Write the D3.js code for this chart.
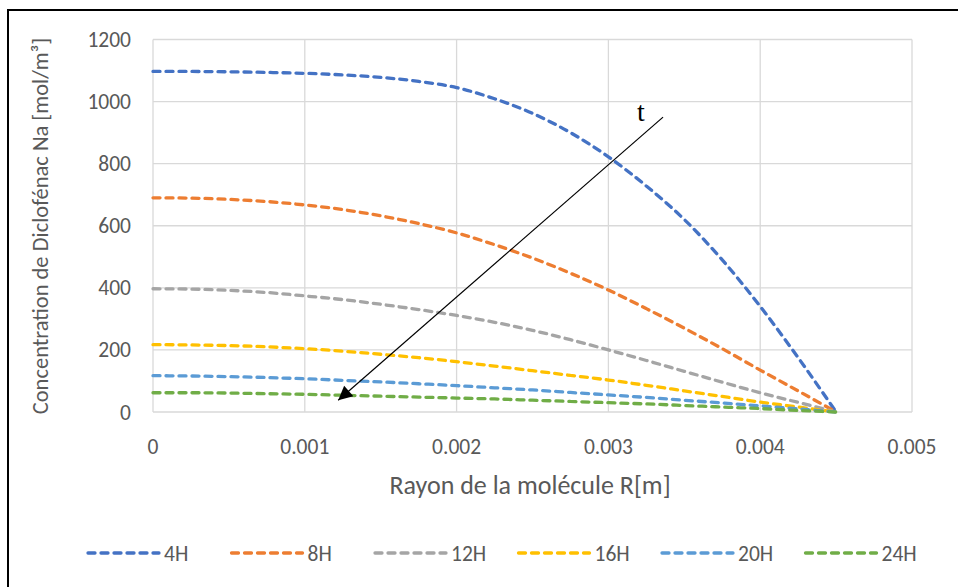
<!DOCTYPE html>
<html>
<head>
<meta charset="utf-8">
<script src="https://cdn.jsdelivr.net/npm/d3@7"></script>
<style>
  body { margin: 0; background: #fff; }
  text { font-family: Carlito, Calibri, Lato, sans-serif; fill: #595959; }
</style>
</head>
<body>
<div id="chart"></div>
<script>
var width = 958;
var height = 587;

// rayon (m)
var radius = [0, 0.00025, 0.0005, 0.00075, 0.001, 0.00125, 0.0015, 0.00175, 0.002, 0.00225,
  0.0025, 0.00275, 0.003, 0.00325, 0.0035, 0.00375, 0.004, 0.00425, 0.0045];

// concentration (mol/m3)
var c4h  = [1097, 1097, 1096, 1094, 1091, 1086, 1078, 1065, 1045, 1009, 962, 900, 822, 728, 620, 490, 340, 175, 0];
var c8h  = [690, 689, 685, 678, 667, 652, 632, 607, 577, 539, 496, 447, 393, 333, 270, 204, 135, 68, 0];
var c12h = [397, 396, 392, 385, 374, 362, 347, 330, 311, 289, 263, 233, 200, 166, 131, 96, 62, 31, 0];
var c16h = [217, 216, 214, 210, 204, 196, 186, 175, 162, 148, 133, 118, 103, 86, 68, 50, 32, 16, 0];
var c20h = [117, 116, 114, 111, 107, 102, 97, 91, 85, 78, 71, 63, 55, 47, 38, 29, 20, 10, 0];
var c24h = [62, 62, 61, 59, 57, 54, 51, 48, 45, 42, 38, 34, 30, 26, 21, 16, 11, 5, 0];

var names = ["4H", "8H", "12H", "16H", "20H", "24H"];
var colors = ["#4472C4", "#ED7D31", "#A5A5A5", "#FFC000", "#5B9BD5", "#70AD47"];
var xTicks = [0, 0.001, 0.002, 0.003, 0.004, 0.005];
var yTicks = [0, 200, 400, 600, 800, 1000, 1200];

var series = [c4h, c8h, c12h, c16h, c20h, c24h];

var svg = d3.select("#chart").append("svg")
  .attr("width", width)
  .attr("height", height);

// outer frame (cut at right and bottom like the picture)
svg.append("path")
  .attr("d", "M8,600 L8,10 L970,10")
  .attr("fill", "none")
  .attr("stroke", "#000")
  .attr("stroke-width", 2);

var xScale = d3.scaleLinear().domain([0, 0.005]).range([153, 912]);
var yScale = d3.scaleLinear().domain([0, 1200]).range([412, 39.5]);

// grid
svg.append("g").selectAll("line.h")
  .data(yTicks).enter().append("line")
  .attr("x1", xScale(0)).attr("x2", xScale(0.005))
  .attr("y1", function(d) { return yScale(d); })
  .attr("y2", function(d) { return yScale(d); })
  .attr("stroke", "#d9d9d9").attr("stroke-width", 1.3);

svg.append("g").selectAll("line.v")
  .data(xTicks).enter().append("line")
  .attr("y1", yScale(0)).attr("y2", yScale(1200))
  .attr("x1", function(d) { return xScale(d); })
  .attr("x2", function(d) { return xScale(d); })
  .attr("stroke", "#d9d9d9").attr("stroke-width", 1.3);

// tick labels
svg.append("g").selectAll("text")
  .data(yTicks).enter().append("text")
  .attr("x", 131)
  .attr("y", function(d) { return yScale(d) + 7.5; })
  .attr("text-anchor", "end")
  .style("font-size", "21.5px")
  .text(function(d) { return d; });

svg.append("g").selectAll("text")
  .data(xTicks).enter().append("text")
  .attr("x", function(d) { return xScale(d); })
  .attr("y", 454)
  .attr("text-anchor", "middle")
  .style("font-size", "21.5px")
  .text(function(d) { return d === 0 ? "0" : d3.format(".3f")(d); });

// axis titles
svg.append("text")
  .attr("x", 530)
  .attr("y", 494)
  .attr("text-anchor", "middle")
  .style("font-size", "26px")
  .text("Rayon de la molécule R[m]");

svg.append("text")
  .attr("transform", "translate(48,226) rotate(-90)")
  .attr("text-anchor", "middle")
  .style("font-size", "22.5px")
  .text("Concentration de Diclofénac Na [mol/m³]");

// curves
var line = d3.line()
  .x(function(d, i) { return xScale(radius[i]); })
  .y(function(d) { return yScale(d); })
  .curve(d3.curveMonotoneX);

svg.append("g").selectAll("path")
  .data(series).enter().append("path")
  .attr("d", line)
  .attr("fill", "none")
  .attr("stroke", function(d, i) { return colors[i]; })
  .attr("stroke-width", 3.3)
  .attr("stroke-dasharray", "7,6")
  .attr("stroke-linecap", "round");

// arrow "t"
svg.append("defs").append("marker")
  .attr("id", "arrow")
  .attr("viewBox", "0 0 10 10")
  .attr("refX", 10).attr("refY", 5)
  .attr("markerWidth", 18).attr("markerHeight", 14)
  .attr("markerUnits", "userSpaceOnUse")
  .attr("orient", "auto")
  .append("path")
  .attr("d", "M0,0 L10,5 L0,10 Z")
  .attr("fill", "#000");

svg.append("line")
  .attr("x1", xScale(0.00336)).attr("y1", yScale(950))
  .attr("x2", xScale(0.00122)).attr("y2", yScale(38))
  .attr("stroke", "#000")
  .attr("stroke-width", 1.2)
  .attr("marker-end", "url(#arrow)");

svg.append("text")
  .attr("x", 641)
  .attr("y", 121)
  .attr("text-anchor", "middle")
  .style("font-family", "'Liberation Serif', 'Times New Roman', serif")
  .style("font-size", "28px")
  .style("fill", "#000")
  .text("t");

// legend
var legend = svg.append("g").selectAll("g")
  .data(names).enter().append("g")
  .attr("transform", function(d, i) { return "translate(" + (88 + i * 143.5) + ",553)"; });

legend.append("line")
  .attr("x1", 0).attr("x2", 71)
  .attr("y1", 0).attr("y2", 0)
  .attr("stroke", function(d, i) { return colors[i]; })
  .attr("stroke-width", 3.3)
  .attr("stroke-dasharray", "7,6")
  .attr("stroke-linecap", "round");

legend.append("text")
  .attr("x", 76)
  .attr("y", 7.5)
  .style("font-size", "21.5px")
  .text(function(d) { return d; });
</script>
</body>
</html>
